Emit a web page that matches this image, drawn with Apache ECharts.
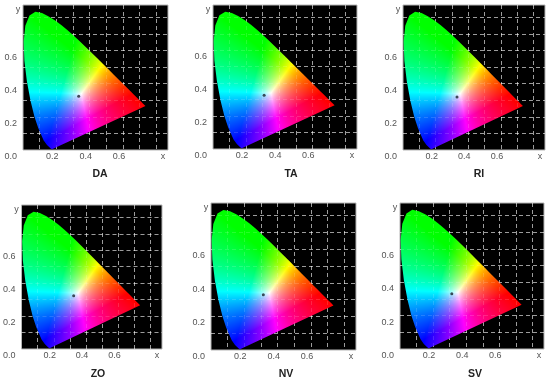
<!DOCTYPE html>
<html>
<head>
<meta charset="utf-8">
<style>
html, body { margin: 0; padding: 0; background: #fff; }
#main { width: 550px; height: 382px; }
</style>
<script src="https://cdn.jsdelivr.net/npm/echarts@6/dist/echarts.min.js"></script>
</head>
<body>
<div id="main"></div>
<script>
const locusX = [0.1741, 0.1733, 0.1714, 0.1689, 0.1644, 0.1566, 0.144, 0.1241, 0.0913, 0.0687, 0.0454, 0.0235, 0.0082, 0.0039,
    0.0139, 0.0389, 0.0743, 0.1142, 0.1547, 0.1929, 0.2296, 0.2658, 0.3016, 0.3373, 0.3731, 0.4087, 0.4441, 0.4788, 0.5125,
    0.5448, 0.5752, 0.6029, 0.627, 0.6482, 0.6658, 0.6915, 0.7079, 0.719, 0.7347];
const locusY = [0.005, 0.0048, 0.0051, 0.0069, 0.0109, 0.0177, 0.0297, 0.0578, 0.1327, 0.2007, 0.295, 0.4127, 0.5384, 0.6548,
    0.7502, 0.812, 0.8338, 0.8262, 0.8059, 0.7816, 0.7543, 0.7243, 0.6923, 0.6589, 0.6245, 0.5896, 0.5547, 0.5202, 0.4866,
    0.4544, 0.4242, 0.3965, 0.3725, 0.3514, 0.334, 0.3083, 0.292, 0.2809, 0.2653];

const panelNames = ["DA", "TA", "RI", "ZO", "NV", "SV"];
const whiteX = [0.334, 0.309, 0.331, 0.323, 0.314, 0.313];
const whiteY = [0.324, 0.327, 0.32, 0.323, 0.329, 0.331];
const xTickLabels = ["0.2", "0.4", "0.6"];
const yTickLabels = ["0.0", "0.2", "0.4", "0.6"];

// layout of each panel: left, right, top, bottom, title x, title y
const layout = [
    [23, 168, 5, 150, 95, 164],
    [213, 357, 5, 149, 286, 164],
    [403, 545, 5, 150, 474, 164],
    [21, 162, 205, 349, 93, 364],
    [211, 356, 203, 350, 281, 364],
    [400, 544, 203, 349, 470, 364]
];
const X_MAX = 0.87;
const Y_MAX = 0.875;

function gammaByte(v) {
    return Math.round(255 * Math.pow(Math.max(0, Math.min(1, v)), 1 / 1.2));
}

// colour plane for the chromaticity diagram: xy -> rgb, channel gains pull the white towards the middle of the gamut
function buildPlane() {
    let size = 440;
    let canvas = document.createElement("canvas");
    canvas.width = size;
    canvas.height = size;
    let ctx = canvas.getContext("2d");
    let img = ctx.createImageData(size, size);
    for (let row = 0; row < size; row++) {
        for (let col = 0; col < size; col++) {
            let x = (col + 0.5) / size * X_MAX;
            let y = Math.max(0.001, (1 - (row + 0.5) / size) * Y_MAX);
            let X = x / y, Y = 1, Z = (1 - x - y) / y;
            let r = 0.68 * (3.2406 * X - 1.5372 * Y - 0.4986 * Z);
            let g = -0.9689 * X + 1.8758 * Y + 0.0415 * Z;
            let b = 1.12 * (0.0557 * X - 0.204 * Y + 1.057 * Z);
            r = Math.max(0, r); g = Math.max(0, g); b = Math.max(0, b);
            let m = Math.max(r, g, b) || 1;
            let i = (row * size + col) * 4;
            img.data[i] = gammaByte(r / m);
            img.data[i + 1] = gammaByte(g / m);
            img.data[i + 2] = gammaByte(b / m);
            img.data[i + 3] = 255;
        }
    }
    ctx.putImageData(img, 0, 0);
    return canvas;
}

const plane = buildPlane();

function renderGamut(params, api) {
    let topLeft = api.coord([0, Y_MAX]);
    let bottomRight = api.coord([X_MAX, 0]);
    let points = [];
    for (let i = 0; i < locusX.length; i++)
        points.push(api.coord([locusX[i], locusY[i]]));
    return {
        type: "image",
        style: {
            image: plane,
            x: topLeft[0],
            y: topLeft[1],
            width: bottomRight[0] - topLeft[0],
            height: bottomRight[1] - topLeft[1]
        },
        clipPath: { type: "polygon", shape: { points: points } }
    };
}

function dashLine(alpha) {
    return { show: true, showMinLine: false, showMaxLine: false, lineStyle: { color: "rgba(255,255,255," + alpha + ")", type: [4, 3], width: 1 } };
}

let option = { animation: false, textStyle: { fontFamily: "Liberation Sans" }, title: [], grid: [], xAxis: [], yAxis: [], series: [] };

panelNames.forEach(function (name, p) {
    let box = layout[p];
    option.grid.push({
        show: true, backgroundColor: "#000", borderColor: "#b5b5b5", borderWidth: 1,
        left: box[0], top: box[2], width: box[1] - box[0], height: box[3] - box[2]
    });
    option.title.push({
        text: name, left: box[4], top: box[5], textAlign: "center",
        textStyle: { fontFamily: "Liberation Sans", fontSize: 10.5, fontWeight: "bold", color: "#222" }
    });
    // main axes: labels and the full strength lines under the gamut
    option.xAxis.push({
        type: "value", gridIndex: p, min: 0, max: X_MAX, interval: 0.1,
        axisLine: { show: false }, axisTick: { show: false }, splitLine: dashLine(0.55),
        name: "x", nameLocation: "end", nameGap: -5,
        nameTextStyle: { fontSize: 9, color: "#555", align: "center", verticalAlign: "top", padding: [2, 0, 0, 0] },
        axisLabel: {
            margin: 2, fontSize: 9, color: "#555", padding: [0, 8, 0, 0],
            formatter: function (v) { let s = v.toFixed(1); return xTickLabels.indexOf(s) >= 0 && v < 0.7 ? s : ""; }
        }
    });
    option.yAxis.push({
        type: "value", gridIndex: p, min: 0, max: Y_MAX, interval: 0.1,
        axisLine: { show: false }, axisTick: { show: false }, splitLine: dashLine(0.55),
        name: "y", nameLocation: "end", nameGap: -5,
        nameTextStyle: { fontSize: 9, color: "#555", align: "center", verticalAlign: "middle", padding: [0, 10, 0, 0] },
        axisLabel: {
            margin: 6, fontSize: 9, color: "#555", verticalAlign: "top", padding: [2, 0, 0, 0],
            formatter: function (v) { let s = v.toFixed(1); return yTickLabels.indexOf(s) >= 0 && v < 0.7 ? s : ""; }
        }
    });
    option.series.push({
        type: "custom", xAxisIndex: p, yAxisIndex: p, coordinateSystem: "cartesian2d",
        renderItem: renderGamut, data: [[0, 0]], silent: true, z: 2, clip: false
    });
    option.series.push({
        type: "scatter", xAxisIndex: p, yAxisIndex: p, data: [[whiteX[p], whiteY[p]]],
        symbolSize: 3, itemStyle: { color: "#1c2430" }, silent: true, z: 4
    });
});

// second set of axes on the same grids: the faint lines that show through the colours
panelNames.forEach(function (name, p) {
    option.xAxis.push({
        type: "value", gridIndex: p, min: 0, max: X_MAX, interval: 0.1, z: 3,
        axisLine: { show: false }, axisTick: { show: false }, axisLabel: { show: false }, splitLine: dashLine(0.14)
    });
    option.yAxis.push({
        type: "value", gridIndex: p, min: 0, max: Y_MAX, interval: 0.1, z: 3,
        axisLine: { show: false }, axisTick: { show: false }, axisLabel: { show: false }, splitLine: dashLine(0.14)
    });
});

let chart = echarts.init(document.getElementById("main"), null, { renderer: "canvas" });
chart.setOption(option);
</script>
</body>
</html>
